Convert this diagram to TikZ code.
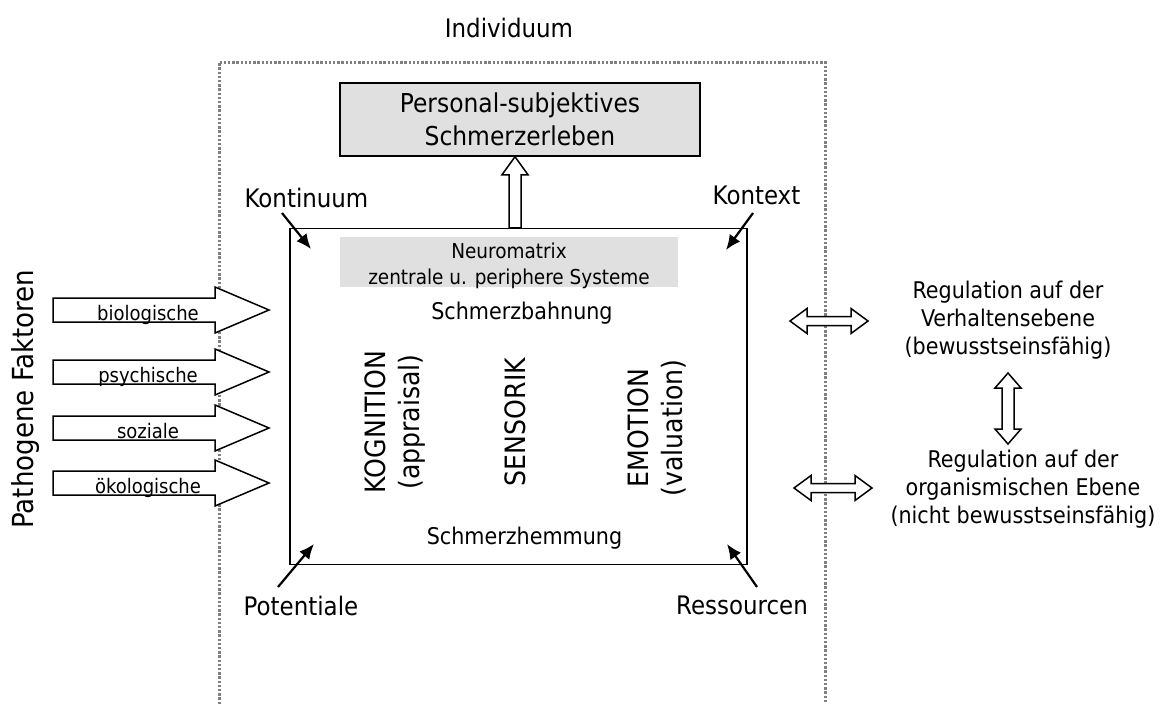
\documentclass[tikz,border=0pt]{standalone}
\usepackage{fontspec}
\setmainfont{DejaVu Sans Condensed}
\usetikzlibrary{calc,arrows.meta}
\definecolor{boxgray}{HTML}{E0E0E0}
\definecolor{dotgray}{HTML}{808080}
\tikzset{
  lbl/.style={font=\fontsize{23}{28}\selectfont, align=center, inner sep=0pt},
  clbl/.style={font=\fontsize{25.5}{28}\selectfont, align=center, inner sep=0pt},
  small/.style={font=\fontsize{20}{26}\selectfont, align=center, inner sep=0pt},
  vert/.style={font=\fontsize{28}{34}\selectfont, align=center, inner sep=0pt, rotate=90},
  blockarrow/.style={draw=black, fill=white, line width=1.5pt, line join=miter},
  cornerarrow/.style={draw=black, line width=2.2pt, -{Latex[length=15pt,width=13pt]}},
  frame/.style={draw=dotgray, line width=3pt, dash pattern=on 2.4pt off 1.8pt},
}
\newcommand{\factorarrow}[3]{%
  \draw[blockarrow] (53,#1-12) -- (215,#1-12) -- (215,#1-23) -- (269,#1) -- (215,#1+23) -- (215,#1+12) -- (53,#1+12) -- cycle;
  \node[small, anchor=base] (#2) at (148,#1+10) {#3};}
\newcommand{\dblharrow}[3]{%
  \draw[blockarrow] (#1,#3) -- (#1+17,#3-12.5) -- (#1+17,#3-4.5) -- (#2-17,#3-4.5) -- (#2-17,#3-12.5) -- (#2,#3) -- (#2-17,#3+12.5) -- (#2-17,#3+4.5) -- (#1+17,#3+4.5) -- (#1+17,#3+12.5) -- cycle;}
\newcommand{\dblvarrow}[3]{%
  \draw[blockarrow] (#1,#2) -- (#1-13,#2+15) -- (#1-6,#2+15) -- (#1-6,#3-15) -- (#1-13,#3-15) -- (#1,#3) -- (#1+13,#3-15) -- (#1+6,#3-15) -- (#1+6,#2+15) -- (#1+13,#2+15) -- cycle;}
\begin{document}
\begin{tikzpicture}[x=1pt,y=-1pt]
\useasboundingbox (0,0) rectangle (1165,704);
% dotted frame of the individual
\draw[frame] (219,704) -- (219,62) -- (825,62) -- (825,704);
\node[clbl] (ind) at (509,28) {Individuum};

% top box
\node[draw, fill=boxgray, line width=1.5pt, minimum width=360pt, minimum height=73pt, inner sep=0pt,
      align=center, font=\fontsize{26}{33}\selectfont] (pse) at (520,119.5) {Personal-subjektives\\Schmerzerleben};

% main box
\node[draw, line width=1.5pt, minimum width=457pt, minimum height=336pt, inner sep=0pt] (main) at (518.5,396.5) {};

% hollow arrow main -> top box
\coordinate (ua) at ($(main.north)+(-3.5,0)$);
\coordinate (ub) at ($(pse.south)+(-5,0)$);
\draw[blockarrow] ($(ua)+(-6,0)$) -- ($(ub)+(-6,18)$) -- ($(ub)+(-13,18)$) -- (ub) -- ($(ub)+(13,18)$) -- ($(ub)+(6,18)$) -- ($(ua)+(6,0)$) -- cycle;

% neuromatrix band
\node[fill=boxgray, minimum width=338pt, minimum height=50pt, inner sep=0pt] (neuro) at (509,262) {};
\node[small, font=\fontsize{20.5}{26}\selectfont] (neurotext) at (509,266) {Neuromatrix\\zentrale u. periphere Systeme};

\node[lbl] (bahn) at (522,313) {Schmerzbahnung};
\node[lbl] (hemm) at (524.5,538) {Schmerzhemmung};

\node[vert] (kog) at (395.5,422) {KOGNITION\\(appraisal)};
\node[vert] (sens) at (515,422) {SENSORIK};
\node[vert] (emo) at (656.5,428) {EMOTION\\(valuation)};

% corner labels
\node[clbl] (kontinuum) at (306.5,198) {Kontinuum};
\node[clbl] (kontext) at (756.5,195) {Kontext};
\node[clbl] (potentiale) at (301,606) {Potentiale};
\node[clbl] (ressourcen) at (742,605) {Ressourcen};
\coordinate (c1a) at (282,213); \coordinate (c1b) at (311,249);
\coordinate (c2a) at (753,213); \coordinate (c2b) at (726,250);
\coordinate (c3a) at (278,587); \coordinate (c3b) at (314,544);
\coordinate (c4a) at (757,587); \coordinate (c4b) at (727,544);
\draw[cornerarrow] (c1a) -- (c1b);
\draw[cornerarrow] (c2a) -- (c2b);
\draw[cornerarrow] (c3a) -- (c3b);
\draw[cornerarrow] (c4a) -- (c4b);

% pathogenic factors
\node[vert, font=\fontsize{29}{33}\selectfont] (patho) at (25,399) {Pathogene Faktoren};
\factorarrow{310}{bio}{biologische}
\factorarrow{372}{psy}{psychische}
\factorarrow{428}{soz}{soziale}
\factorarrow{483}{oek}{ökologische}

% regulation
\node[lbl] (reg1) at (1008,320) {Regulation auf der\\Verhaltensebene\\(bewusstseinsfähig)};
\node[lbl] (reg2) at (1023,489) {Regulation auf der\\organismischen Ebene\\(nicht bewusstseinsfähig)};
\dblharrow{790}{868}{321}
\dblharrow{794}{872}{488}
\dblvarrow{1008}{373}{444}
\end{tikzpicture}
\end{document}
